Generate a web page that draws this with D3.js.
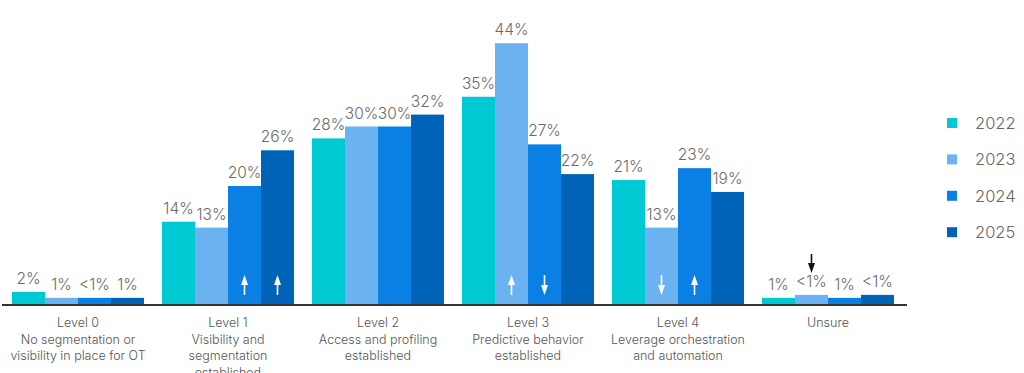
<!DOCTYPE html>
<html>
<head>
<meta charset="utf-8">
<script src="https://cdn.jsdelivr.net/npm/d3@7"></script>
<style>
  body { margin: 0; background: #fff; }
  svg { display: block; font-family: Inter, "Noto Sans", sans-serif; }
</style>
</head>
<body>
<div id="chart"></div>
<script>
// data
const groups = ["Level 0", "Level 1", "Level 2", "Level 3", "Level 4", "Unsure"];
const groupLines = [
  ["Level 0", "No segmentation or", "visibility in place for OT"],
  ["Level 1", "Visibility and", "segmentation", "established"],
  ["Level 2", "Access and profiling", "established"],
  ["Level 3", "Predictive behavior", "established"],
  ["Level 4", "Leverage orchestration", "and automation"],
  ["Unsure"]
];
const years = ["2022", "2023", "2024", "2025"];
const colors = ["#00c9d3", "#6ab2f0", "#0a80e4", "#0063b7"];

// bar heights (small ones) and printed labels
const values = [
  [2.2, 1.2, 1.2, 1.2],
  [14, 13, 20, 26],
  [28, 30, 30, 32],
  [35, 44, 27, 22],
  [21, 13, 23, 19],
  [1.2, 1.7, 1.2, 1.7]
];
const labels = [
  ["2%", "1%", "<1%", "1%"],
  ["14%", "13%", "20%", "26%"],
  ["28%", "30%", "30%", "32%"],
  ["35%", "44%", "27%", "22%"],
  ["21%", "13%", "23%", "19%"],
  ["1%", "<1%", "1%", "<1%"]
];
// change arrows: [group, year, direction]
const arrows = [
  ["Level 1", "2024", "up"], ["Level 1", "2025", "up"],
  ["Level 3", "2023", "up"], ["Level 3", "2024", "down"],
  ["Level 4", "2023", "down"], ["Level 4", "2024", "up"]
];
const outsideArrows = [["Unsure", "2023", "down"]];

const W = 1024, H = 373;
const svg = d3.select("#chart").append("svg").attr("width", W).attr("height", H);

const x0 = d3.scaleBand().domain(groups).range([3, 903]).paddingInner(0.12).paddingOuter(0.06);
const x1 = d3.scaleBand().domain(years).range([0, x0.bandwidth()]);
const y = d3.scaleLinear().domain([0, 50]).range([305, 7.5]);
const color = d3.scaleOrdinal().domain(years).range(colors);

const rows = [];
groups.forEach((g, i) => years.forEach((yr, j) => {
  rows.push({ g, yr, v: values[i][j], label: labels[i][j] });
}));

const bars = svg.append("g");
bars.selectAll("rect").data(rows).enter().append("rect")
  .attr("x", d => x0(d.g) + x1(d.yr))
  .attr("y", d => y(d.v))
  .attr("width", x1.bandwidth())
  .attr("height", d => y(0) - y(d.v))
  .attr("fill", d => color(d.yr));

bars.selectAll("text").data(rows).enter().append("text")
  .attr("x", d => x0(d.g) + x1(d.yr) + x1.bandwidth() / 2)
  .attr("y", d => y(d.v) - 8)
  .attr("text-anchor", "middle")
  .attr("font-size", 15.5)
  .attr("font-weight", 300)
  .attr("fill", "#6a6a6a")
  .text(d => d.label);

// arrows
function arrow(g, x, yTop, yBot, dir, col) {
  const a = g.append("g").attr("stroke", col).attr("fill", col);
  a.append("line").attr("x1", x).attr("x2", x)
    .attr("y1", dir === "up" ? yTop + 6 : yTop)
    .attr("y2", dir === "up" ? yBot : yBot - 6)
    .attr("stroke-width", 1.6);
  const tip = dir === "up" ? yTop : yBot;
  const base = dir === "up" ? yTop + 10 : yBot - 10;
  a.append("path").attr("stroke", "none")
    .attr("d", `M${x},${tip}L${x - 3.5},${base}L${x + 3.5},${base}Z`);
}
const ag = svg.append("g");
arrows.forEach(([g, yr, dir]) => {
  const cx = x0(g) + x1(yr) + x1.bandwidth() / 2;
  arrow(ag, cx, y(0) - 30, y(0) - 10, dir, "#fff");
});
outsideArrows.forEach(([g, yr, dir]) => {
  const cx = x0(g) + x1(yr) + x1.bandwidth() / 2;
  arrow(ag, cx, 254, 273, dir, "#111");
});

// axis line
const axis = d3.axisBottom(x0).tickSize(0).tickFormat("");
const ax = svg.append("g").attr("transform", `translate(0,${y(0)})`).call(axis);
ax.select(".domain").attr("stroke", "#333").attr("stroke-width", 2)
  .attr("d", `M${x0.range()[0] - 1},0H${x0.range()[1] + 4}`);

// category labels
groups.forEach((g, i) => {
  const t = svg.append("text")
    .attr("x", x0(g) + x0.bandwidth() / 2)
    .attr("text-anchor", "middle")
    .attr("font-size", 12.5)
    .attr("font-weight", 300)
    .attr("fill", "#555");
  groupLines[i].forEach((ln, k) => {
    t.append("tspan").attr("x", x0(g) + x0.bandwidth() / 2)
      .attr("y", 327 + k * 16.5).text(ln);
  });
});

// legend
const lg = svg.append("g").attr("transform", "translate(947,123)");
years.forEach((yr, i) => {
  const row = lg.append("g").attr("transform", `translate(0,${i * 36.4})`);
  row.append("rect").attr("x", 0).attr("y", -5).attr("width", 10).attr("height", 10).attr("fill", color(yr));
  row.append("text").attr("x", 28).attr("y", 6).attr("font-size", 16.5)
    .attr("font-weight", 300).attr("fill", "#666").text(yr);
});
</script>
</body>
</html>
